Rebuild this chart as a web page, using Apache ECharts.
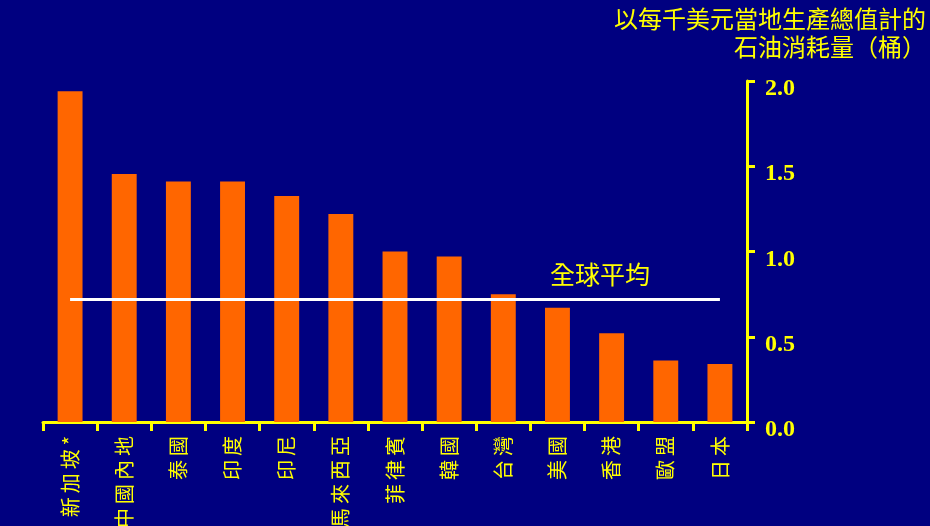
<!DOCTYPE html>
<html><head><meta charset="utf-8">
<script src="https://cdn.jsdelivr.net/npm/echarts@6/dist/echarts.min.js"></script>
<style>html,body{margin:0;padding:0;background:#000080;}#c{width:930px;height:526px;}</style>
</head><body><div id="c"></div>
<script>
const categories = ['新加坡*','中國內地','泰國','印度','印尼','馬來西亞','菲律賓','韓國','台灣','美國','香港','歐盟','日本'];
const values = [1.94, 1.455, 1.41, 1.41, 1.325, 1.22, 1.0, 0.97, 0.75, 0.67, 0.52, 0.36, 0.34];
const worldAverage = 0.72;
const averageLabel = '全球平均';
const titleLines = ['以每千美元當地生產總值計的', '石油消耗量（桶）'];

const yellow = '#FFFF00';
const cjk = '"Noto Sans CJK TC", sans-serif';
const chart = echarts.init(document.getElementById('c'));
chart.setOption({
  backgroundColor: '#000080',
  animation: false,
  title: titleLines.map((t, i) => ({
    text: t, right: 4, top: 7 + i * 28, padding: 0,
    textStyle: { color: yellow, fontSize: 24, fontWeight: 'normal', fontFamily: cjk }
  })),
  grid: { left: 43, right: 183, top: 81, bottom: 104, containLabel: false, outerBoundsMode: 'none' },
  xAxis: {
    type: 'category', data: categories,
    axisLine: { lineStyle: { color: yellow, width: 3 } },
    axisTick: { show: true, length: 9, lineStyle: { color: yellow, width: 3 } },
    axisLabel: { rotate: 90, color: yellow, fontSize: 20, margin: 14, fontFamily: cjk,
      formatter: v => Array.from(v).join('\u2009') }
  },
  yAxis: {
    type: 'value', position: 'right', min: 0, max: 2, interval: 0.5,
    splitLine: { show: false },
    axisLine: { show: true, lineStyle: { color: yellow, width: 3 } },
    axisTick: { show: true, inside: false, length: 8, lineStyle: { color: yellow, width: 3 } },
    axisLabel: { color: yellow, fontSize: 24, fontWeight: 'bold', margin: 18,
      verticalAlign: 'top', lineHeight: 16,
      fontFamily: '"Liberation Serif", "Times New Roman", serif',
      formatter: v => v.toFixed(1) }
  },
  series: [{
    type: 'bar', data: values, barWidth: '46%',
    itemStyle: { color: '#FF6600' },
    markLine: {
      silent: true, symbol: 'none',
      lineStyle: { color: '#FFFFFF', width: 3, type: 'solid' },
      label: { show: true, position: 'insideEndTop', formatter: averageLabel,
        color: yellow, fontSize: 25, distance: 12, padding: [0, 58, 0, 0],
        fontFamily: cjk },
      data: [[{ coord: [0, worldAverage] }, { coord: [12, worldAverage] }]]
    }
  }]
});
</script></body></html>
